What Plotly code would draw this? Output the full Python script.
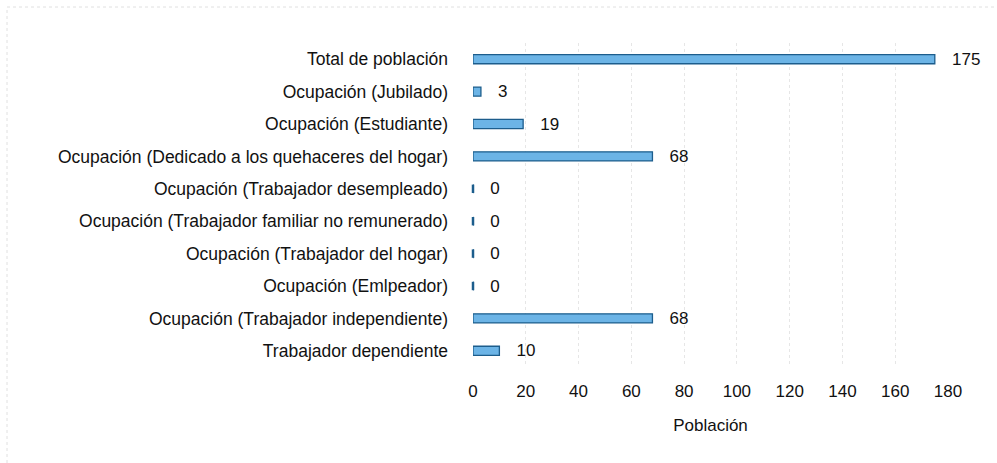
import plotly.graph_objects as go

categories = [
    "Total de población",
    "Ocupación (Jubilado)",
    "Ocupación (Estudiante)",
    "Ocupación (Dedicado a los quehaceres del hogar)",
    "Ocupación (Trabajador desempleado)",
    "Ocupación (Trabajador familiar no remunerado)",
    "Ocupación (Trabajador del hogar)",
    "Ocupación (Emlpeador)",
    "Ocupación (Trabajador independiente)",
    "Trabajador dependiente",
]
values = [175, 3, 19, 68, 0, 0, 0, 0, 68, 10]
x_ticks = [0, 20, 40, 60, 80, 100, 120, 140, 160, 180]
x_title = "Población"

FONT = "Liberation Sans, Arial, sans-serif"
W, H = 997, 463
ML, MR, MT, MB = 473, 49, 43, 96

fig = go.Figure()
fig.add_trace(go.Bar(
    y=categories, x=values, orientation="h",
    marker=dict(color="#6cb4e6", line=dict(color="#1c5d8c", width=1.3)),
    text=["\u00a0\u00a0\u00a0" + str(v) for v in values],
    textposition="outside", cliponaxis=False, constraintext="none",
    textfont=dict(family=FONT, size=17, color="#111111"),
    hoverinfo="skip", showlegend=False,
))
zero_cats = [c for c, v in zip(categories, values) if v == 0]
fig.add_trace(go.Scatter(
    y=zero_cats, x=[0] * len(zero_cats), mode="markers",
    marker=dict(symbol="line-ns", size=6, line=dict(color="#1c5d8c", width=2.5)),
    hoverinfo="skip", showlegend=False, cliponaxis=False,
))

pw = W - ML - MR
ph = H - MT - MB
fig.add_shape(type="rect", xref="paper", yref="paper",
              x0=(7 - ML) / pw, x1=(W + 5 - ML) / pw,
              y0=-(MB + 5) / ph, y1=(H - 7 - MB) / ph,
              line=dict(color="#e0e0e0", width=1, dash="dot"), layer="below")

fig.update_layout(
    width=W, height=H,
    margin=dict(l=ML, r=MR, t=MT, b=MB, autoexpand=False),
    paper_bgcolor="white", plot_bgcolor="white",
    bargap=0.72,
    font=dict(family=FONT, size=17, color="#111111"),
    xaxis=dict(range=[0, 180], tickvals=x_ticks, showgrid=True,
               gridcolor="#e6e6e6", griddash="dot", zeroline=False,
               showline=False, ticks="outside", ticklen=9,
               tickcolor="rgba(0,0,0,0)", automargin=False,
               tickfont=dict(family=FONT, size=17),
               title=dict(text=x_title, standoff=18, font=dict(family=FONT, size=17))),
    yaxis=dict(autorange="reversed", showgrid=False, zeroline=False, showline=False,
               ticks="", ticklabelstandoff=24, automargin=False,
               tickfont=dict(family=FONT, size=17.5)),
)

fig.write_html("out.html", config={"displayModeBar": False},
               post_script="document.body.style.margin='0';")
